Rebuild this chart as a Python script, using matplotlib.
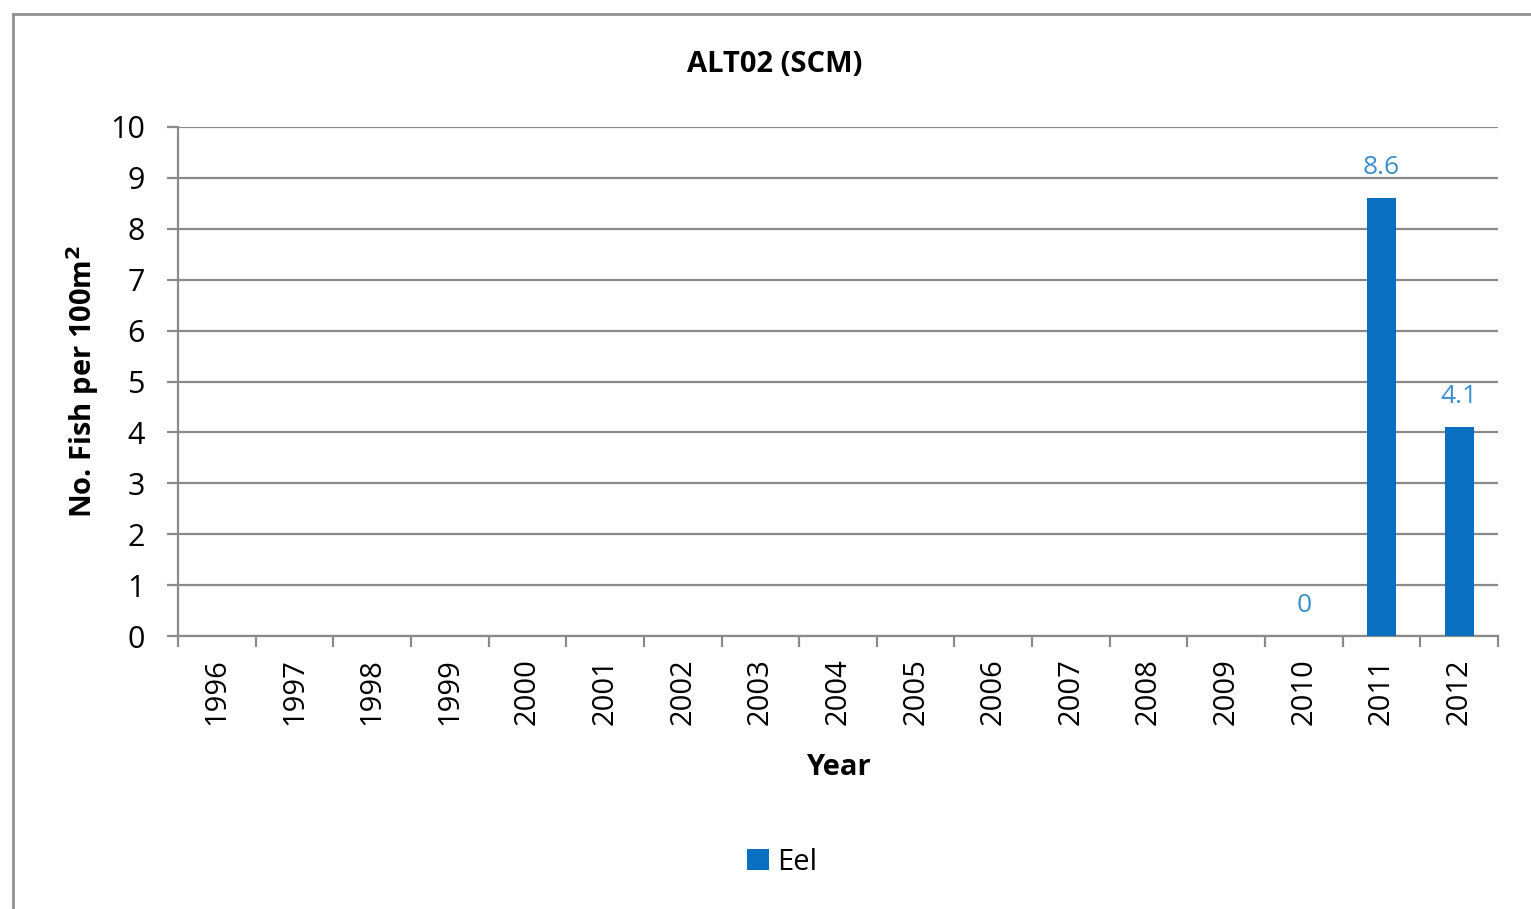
import matplotlib.pyplot as plt
from matplotlib.lines import Line2D
from matplotlib.patches import Patch
import numpy as np

plt.rcParams["font.family"] = ["Open Sans", "DejaVu Sans"]

years = [str(y) for y in range(1996, 2013)]
# only the last three surveys have a value; earlier years are blank
eel = [np.nan] * 14 + [0, 8.6, 4.1]

bar_color = "#0a6fc0"
label_color = "#3a8fd0"
grid_color = "#8a8a8a"

fig = plt.figure(figsize=(15.31, 9.09), dpi=100)
ax = fig.add_axes([178 / 1531, 1 - 636 / 909, 1320 / 1531, 509 / 909])

x = np.arange(len(years))
heights = np.nan_to_num(eel)
ax.bar(x, heights, width=0.37, color=bar_color, zorder=3)

for xi, val in zip(x, eel):
    if np.isnan(val):
        continue
    ax.text(xi, val + 0.36, f"{val:g}", ha="center", va="bottom",
            fontsize=19, color=label_color, zorder=4)

ax.set_xlim(-0.5, len(years) - 0.5)
ax.set_ylim(0, 10)
ax.set_yticks(range(0, 11))
ax.yaxis.grid(True, color=grid_color, linewidth=1.6, zorder=0)

# labels sit under each category, ticks at the category boundaries
ax.set_xticks(x)
ax.set_xticklabels(years, rotation=90, fontsize=21)
ax.tick_params(axis="x", length=0, pad=16)
ax.set_xticks(np.arange(-0.5, len(years)), minor=True)
ax.tick_params(axis="x", which="minor", length=8, width=1.6,
               color=grid_color, direction="out")
ax.tick_params(axis="y", labelsize=22, length=8, width=1.6,
               color=grid_color, pad=16)

for side in ["top", "right"]:
    ax.spines[side].set_visible(False)
for side in ["left", "bottom"]:
    ax.spines[side].set_color(grid_color)
    ax.spines[side].set_linewidth(1.6)

ax.set_xlabel("Year", fontsize=21, fontweight="bold", labelpad=20)
ax.set_ylabel("No. Fish per 100m$^\\mathbf{2}$", fontsize=21,
              fontweight="bold", labelpad=6)
fig.text(775 / 1531, 1 - 64 / 909, "ALT02 (SCM)", ha="center", va="center",
         fontsize=21, fontweight="bold")

fig.legend(handles=[Patch(facecolor=bar_color, label="Eel")],
           loc="center", bbox_to_anchor=(782 / 1531, 1 - 862 / 909),
           frameon=False, fontsize=21, handlelength=0.75, handleheight=0.75,
           handletextpad=0.3)

# chart frame: left and top edges only
fig.add_artist(Line2D([13 / 1531, 13 / 1531], [0, 1 - 14 / 909],
                      transform=fig.transFigure, color="#909090", linewidth=2))
fig.add_artist(Line2D([13 / 1531, 1], [1 - 14 / 909, 1 - 14 / 909],
                      transform=fig.transFigure, color="#909090", linewidth=2))

fig.savefig("out.png", dpi=100)
